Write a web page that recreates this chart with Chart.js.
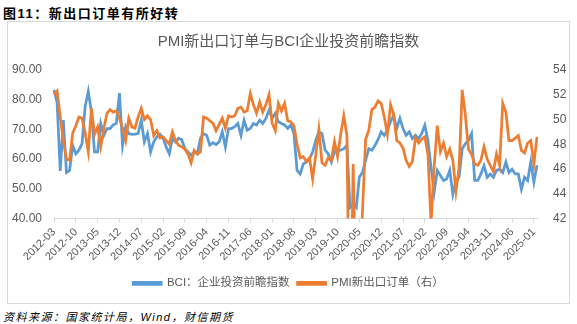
<!DOCTYPE html>
<html lang="zh">
<head>
  <meta charset="UTF-8">
  <title>PMI新出口订单与BCI企业投资前瞻指数</title>
  <style>
    body {
      margin: 0;
      width: 577px;
      height: 324px;
      background: #fff;
      position: relative;
      overflow: hidden;
      font-family: 'Liberation Sans', 'Noto Sans CJK SC', sans-serif;
    }
    .fig-title {
      position: absolute;
      left: 3px;
      top: 3px;
      font-size: 13px;
      font-weight: bold;
      letter-spacing: 1.5px;
      color: #000;
    }
    .box {
      position: absolute;
      left: 7px;
      top: 21px;
      width: 563px;
      height: 283px;
      border: 1px solid #d9d9d9;
      box-sizing: border-box;
    }
    .source {
      position: absolute;
      left: 3px;
      top: 308px;
      font-size: 11px;
      font-style: italic;
      letter-spacing: 1.5px;
      color: #000;
    }
  </style>
</head>
<body>
  <div class="fig-title">图11：新出口订单有所好转</div>
  <div class="box">
    <canvas id="chart" width="561" height="281"></canvas>
  </div>
  <div class="source">资料来源：国家统计局，Wind，财信期货</div>

  <script src="https://cdn.jsdelivr.net/npm/chart.js@4.4.1/dist/chart.umd.min.js"></script>
  <script>
    // 月度：2012-03 ～ 2025-02
    const START_YEAR = 2012;
    const START_MONTH = 3;
    const MONTH_COUNT = 156;
    const LABEL_EVERY = 7;

    // BCI：企业投资前瞻指数（左轴）
    const BCI = [
      83.3, 79.0, 56.0, 73.1, 55.5, 56.2, 64.6, 61.8, 63.0, 65.2,
      77.7, 82.8, 76.0, 62.4, 62.4, 72.0, 68.0, 70.3, 70.3, 71.5,
      72.0, 82.2, 64.6, 70.9, 68.6, 68.3, 68.4, 68.6, 73.1, 65.8,
      68.6, 62.4, 65.8, 67.5, 68.4, 67.0, 64.1, 61.8, 67.0, 65.8,
      67.0, 66.5, 63.5, 62.4, 61.3, 62.4, 61.8, 67.0, 68.6, 68.0,
      64.7, 65.5, 64.9, 65.8, 69.2, 64.1, 70.3, 70.3, 70.9, 72.0,
      68.0, 73.1, 69.7, 70.3, 72.0, 71.5, 73.1, 72.0, 73.7, 76.5,
      73.7, 75.4, 72.6, 72.0, 71.5, 70.3, 71.5, 68.6, 56.2, 55.0,
      58.4, 59.0, 60.1, 62.4, 66.3, 69.2, 68.6, 63.0, 61.8, 59.0,
      62.4, 63.0, 63.0, 63.5, 64.6, 43.7, 44.9, 43.7, 53.9, 55.6,
      59.6, 63.5, 63.0, 64.6, 66.6, 69.2, 68.0, 69.7, 72.6, 74.8,
      70.3, 73.7, 70.3, 68.0, 69.2, 66.9, 68.0, 66.9, 68.6, 71.4,
      66.3, 57.3, 48.8, 56.2, 54.5, 52.8, 53.3, 56.2, 48.2, 52.8,
      53.9, 63.5, 65.2, 66.3, 68.6, 52.8, 52.8, 55.0, 57.8, 53.9,
      55.0, 53.9, 56.2, 56.6, 55.5, 59.0, 55.5, 56.6, 55.0, 55.0,
      49.9, 53.9, 52.8, 59.0, 52.2, 57.9
    ];

    // PMI新出口订单（右轴）
    const PMI_EXPORT = [
      52.0, 52.3, 50.2, 48.3, 46.8, 46.7, 48.9, 49.5, 50.2, 50.1,
      48.9, 47.4, 50.9, 48.8, 49.4, 47.8, 49.3, 50.5, 50.8, 50.6,
      50.7, 50.1, 49.3, 48.3, 50.1, 49.4, 49.3, 50.2, 50.9, 50.0,
      50.3, 50.0, 48.7, 49.1, 48.5, 48.6, 48.3, 48.0, 49.0, 48.3,
      47.9, 47.8, 47.6, 47.2, 46.5, 47.5, 47.2, 47.4, 50.2, 50.1,
      49.9, 49.7, 49.1, 49.6, 50.1, 49.3, 50.3, 50.2, 50.3, 50.9,
      51.0, 50.6, 50.7, 52.1, 51.2, 50.5, 51.4, 50.6, 51.2, 52.0,
      49.7, 49.1, 51.3, 50.7, 51.3, 49.9, 49.8, 49.5, 48.0, 46.9,
      47.0, 46.6, 46.9, 45.2, 47.1, 49.2, 46.5, 46.3, 46.9, 46.7,
      48.2, 47.0, 48.8, 50.3, 48.7, 28.7, 46.4, 33.5, 35.3, 42.6,
      48.4, 49.1, 50.8, 51.0, 51.5, 51.3, 50.2, 48.8, 51.2, 50.4,
      48.3, 48.1, 47.7, 46.7, 46.2, 46.6, 48.5, 48.1, 48.4, 48.6,
      47.2, 41.6, 46.2, 49.5, 47.4, 48.1, 47.0, 47.6, 46.7, 44.2,
      46.1, 52.4, 50.4, 47.6, 47.2, 46.4, 46.3, 46.7, 47.8, 46.8,
      46.3, 45.8, 47.2, 46.3, 51.3, 50.6, 48.3, 48.3, 48.5, 48.7,
      47.5, 47.3, 48.1, 48.3, 46.4, 48.6
    ];

    const FONT = "'Liberation Sans', 'Noto Sans CJK SC', sans-serif";
    const TEXT_COLOR = '#595959';

    const months = [];
    for (let k = 0; k < MONTH_COUNT; k++) {
      const m = START_MONTH - 1 + k;
      const y = START_YEAR + Math.floor(m / 12);
      months.push(y + '-' + String(m % 12 + 1).padStart(2, '0'));
    }

    Chart.defaults.font.family = FONT;
    Chart.defaults.color = TEXT_COLOR;

    new Chart(document.getElementById('chart'), {
      type: 'line',
      data: {
        labels: months,
        datasets: [
          {
            label: 'BCI：企业投资前瞻指数',
            data: BCI,
            yAxisID: 'y',
            borderColor: '#5B9BD5',
            backgroundColor: '#5B9BD5',
            borderWidth: 2.75,
            pointRadius: 0,
            tension: 0,
            order: 1
          },
          {
            label: 'PMI新出口订单（右）',
            data: PMI_EXPORT,
            yAxisID: 'y1',
            borderColor: '#ED7D31',
            backgroundColor: '#ED7D31',
            borderWidth: 2.75,
            pointRadius: 0,
            tension: 0,
            order: 0
          }
        ]
      },
      options: {
        responsive: false,
        animation: false,
        layout: { padding: { left: 0, right: 0, top: 0, bottom: 4 } },
        plugins: {
          title: {
            display: true,
            text: 'PMI新出口订单与BCI企业投资前瞻指数',
            color: TEXT_COLOR,
            font: { size: 15, weight: 'normal' },
            padding: { top: 11, bottom: 19 }
          },
          legend: {
            position: 'bottom',
            labels: {
              sort: (a, b) => a.datasetIndex - b.datasetIndex,
              boxWidth: 28,
              boxHeight: 2,
              padding: 8,
              color: TEXT_COLOR,
              font: { size: 11.5 }
            }
          },
          tooltip: { enabled: false }
        },
        scales: {
          x: {
            grid: { drawOnChartArea: false, drawTicks: true, tickLength: 4, color: '#d9d9d9' },
            border: { display: true, color: '#d9d9d9' },
            ticks: {
              autoSkip: false,
              minRotation: 45,
              maxRotation: 45,
              font: { size: 11 },
              color: TEXT_COLOR,
              callback: function(value, index) {
                return index % LABEL_EVERY === 0 ? this.getLabelForValue(value) : null;
              }
            },
            afterFit: (scale) => { scale.height = 51; }
          },
          y: {
            position: 'left',
            min: 40,
            max: 90,
            grid: { display: false },
            border: { display: false },
            ticks: {
              stepSize: 5,
              font: { size: 12 },
              color: TEXT_COLOR,
              padding: 4,
              callback: (v) => v.toFixed(2)
            },
            afterFit: (scale) => { scale.width = 46; }
          },
          y1: {
            position: 'right',
            min: 42,
            max: 54,
            grid: { display: false },
            border: { display: false },
            ticks: {
              stepSize: 2,
              font: { size: 12 },
              color: TEXT_COLOR,
              padding: 8
            },
            afterFit: (scale) => { scale.width = 32; }
          }
        }
      }
    });
  </script>
</body>
</html>
